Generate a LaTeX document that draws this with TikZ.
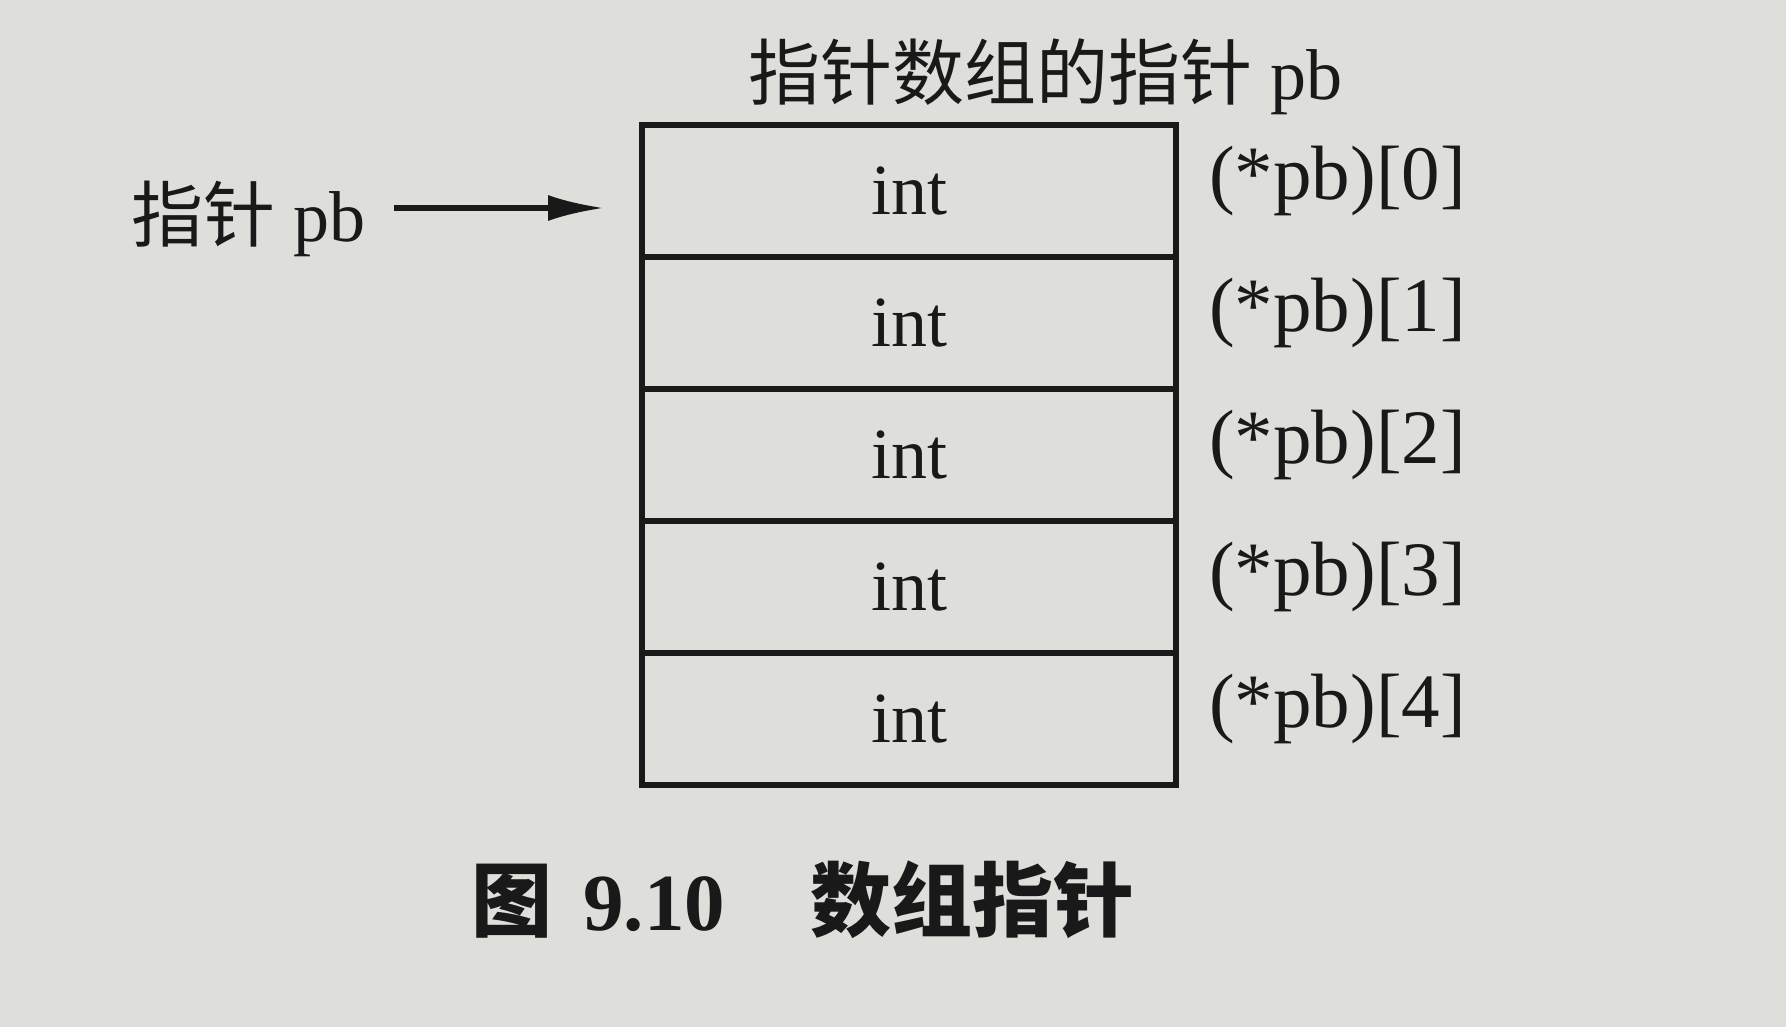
\documentclass[tikz,border=0pt]{standalone}
\usepackage{fontspec}
\setmainfont{Liberation Serif}
\newfontfamily\cjk{Noto Sans CJK SC}
\usetikzlibrary{positioning,arrows.meta}
\definecolor{paper}{RGB}{222,222,219}
\definecolor{ink}{RGB}{25,25,25}
\tikzset{every picture/.style={line width=2.6pt}}
\tikzset{
  big/.style={font=\fontsize{36}{40}\selectfont, text=ink},
  cell/.style={big, draw=ink, minimum width=267pt, minimum height=66pt, inner sep=0pt, outer sep=0pt},
  elem/.style={big, font=\fontsize{38.5}{42}\selectfont, anchor=west},
  ptrarrow/.style={draw=ink, -{Latex[length=28pt,width=13pt]}},
}
\begin{document}
\begin{tikzpicture}[x=0.5pt,y=0.5pt,yscale=-1,xscale=1]
  \fill[paper] (0,0) rectangle (1786,1027);
  \useasboundingbox (0,0) rectangle (1786,1027);

  % Text Node
  \node[big] (title) at (1045,77) {{\cjk 指针数组的指针} pb};

  % Cells
  \node[cell] (c0) at (909,191) {int};
  \node[cell, below=0pt of c0] (c1) {int};
  \node[cell, below=0pt of c1] (c2) {int};
  \node[cell, below=0pt of c2] (c3) {int};
  \node[cell, below=0pt of c3] (c4) {int};

  % Text Node
  \node[elem, right=12pt of c0, yshift=5pt] (e0) {(*pb)[0]};
  \node[elem, right=12pt of c1, yshift=5pt] (e1) {(*pb)[1]};
  \node[elem, right=12pt of c2, yshift=5pt] (e2) {(*pb)[2]};
  \node[elem, right=12pt of c3, yshift=5pt] (e3) {(*pb)[3]};
  \node[elem, right=12pt of c4, yshift=5pt] (e4) {(*pb)[4]};

  % Pointer
  \node[big] (ptr) at (248,219) {{\cjk 指针} pb};
  \coordinate (tip) at ([xshift=-19pt,yshift=8.5pt]c0.west);
  \draw[ptrarrow, shorten <=10pt] (ptr.east |- tip) -- (tip);

  % Caption
  \node[big, font=\fontsize{40.5}{45}\selectfont\bfseries] (cap) at (803,900) {{\cjk 图}\hspace{0.38em}9.10\hspace{1.05em}{\cjk 数组指针}};
\end{tikzpicture}
\end{document}
